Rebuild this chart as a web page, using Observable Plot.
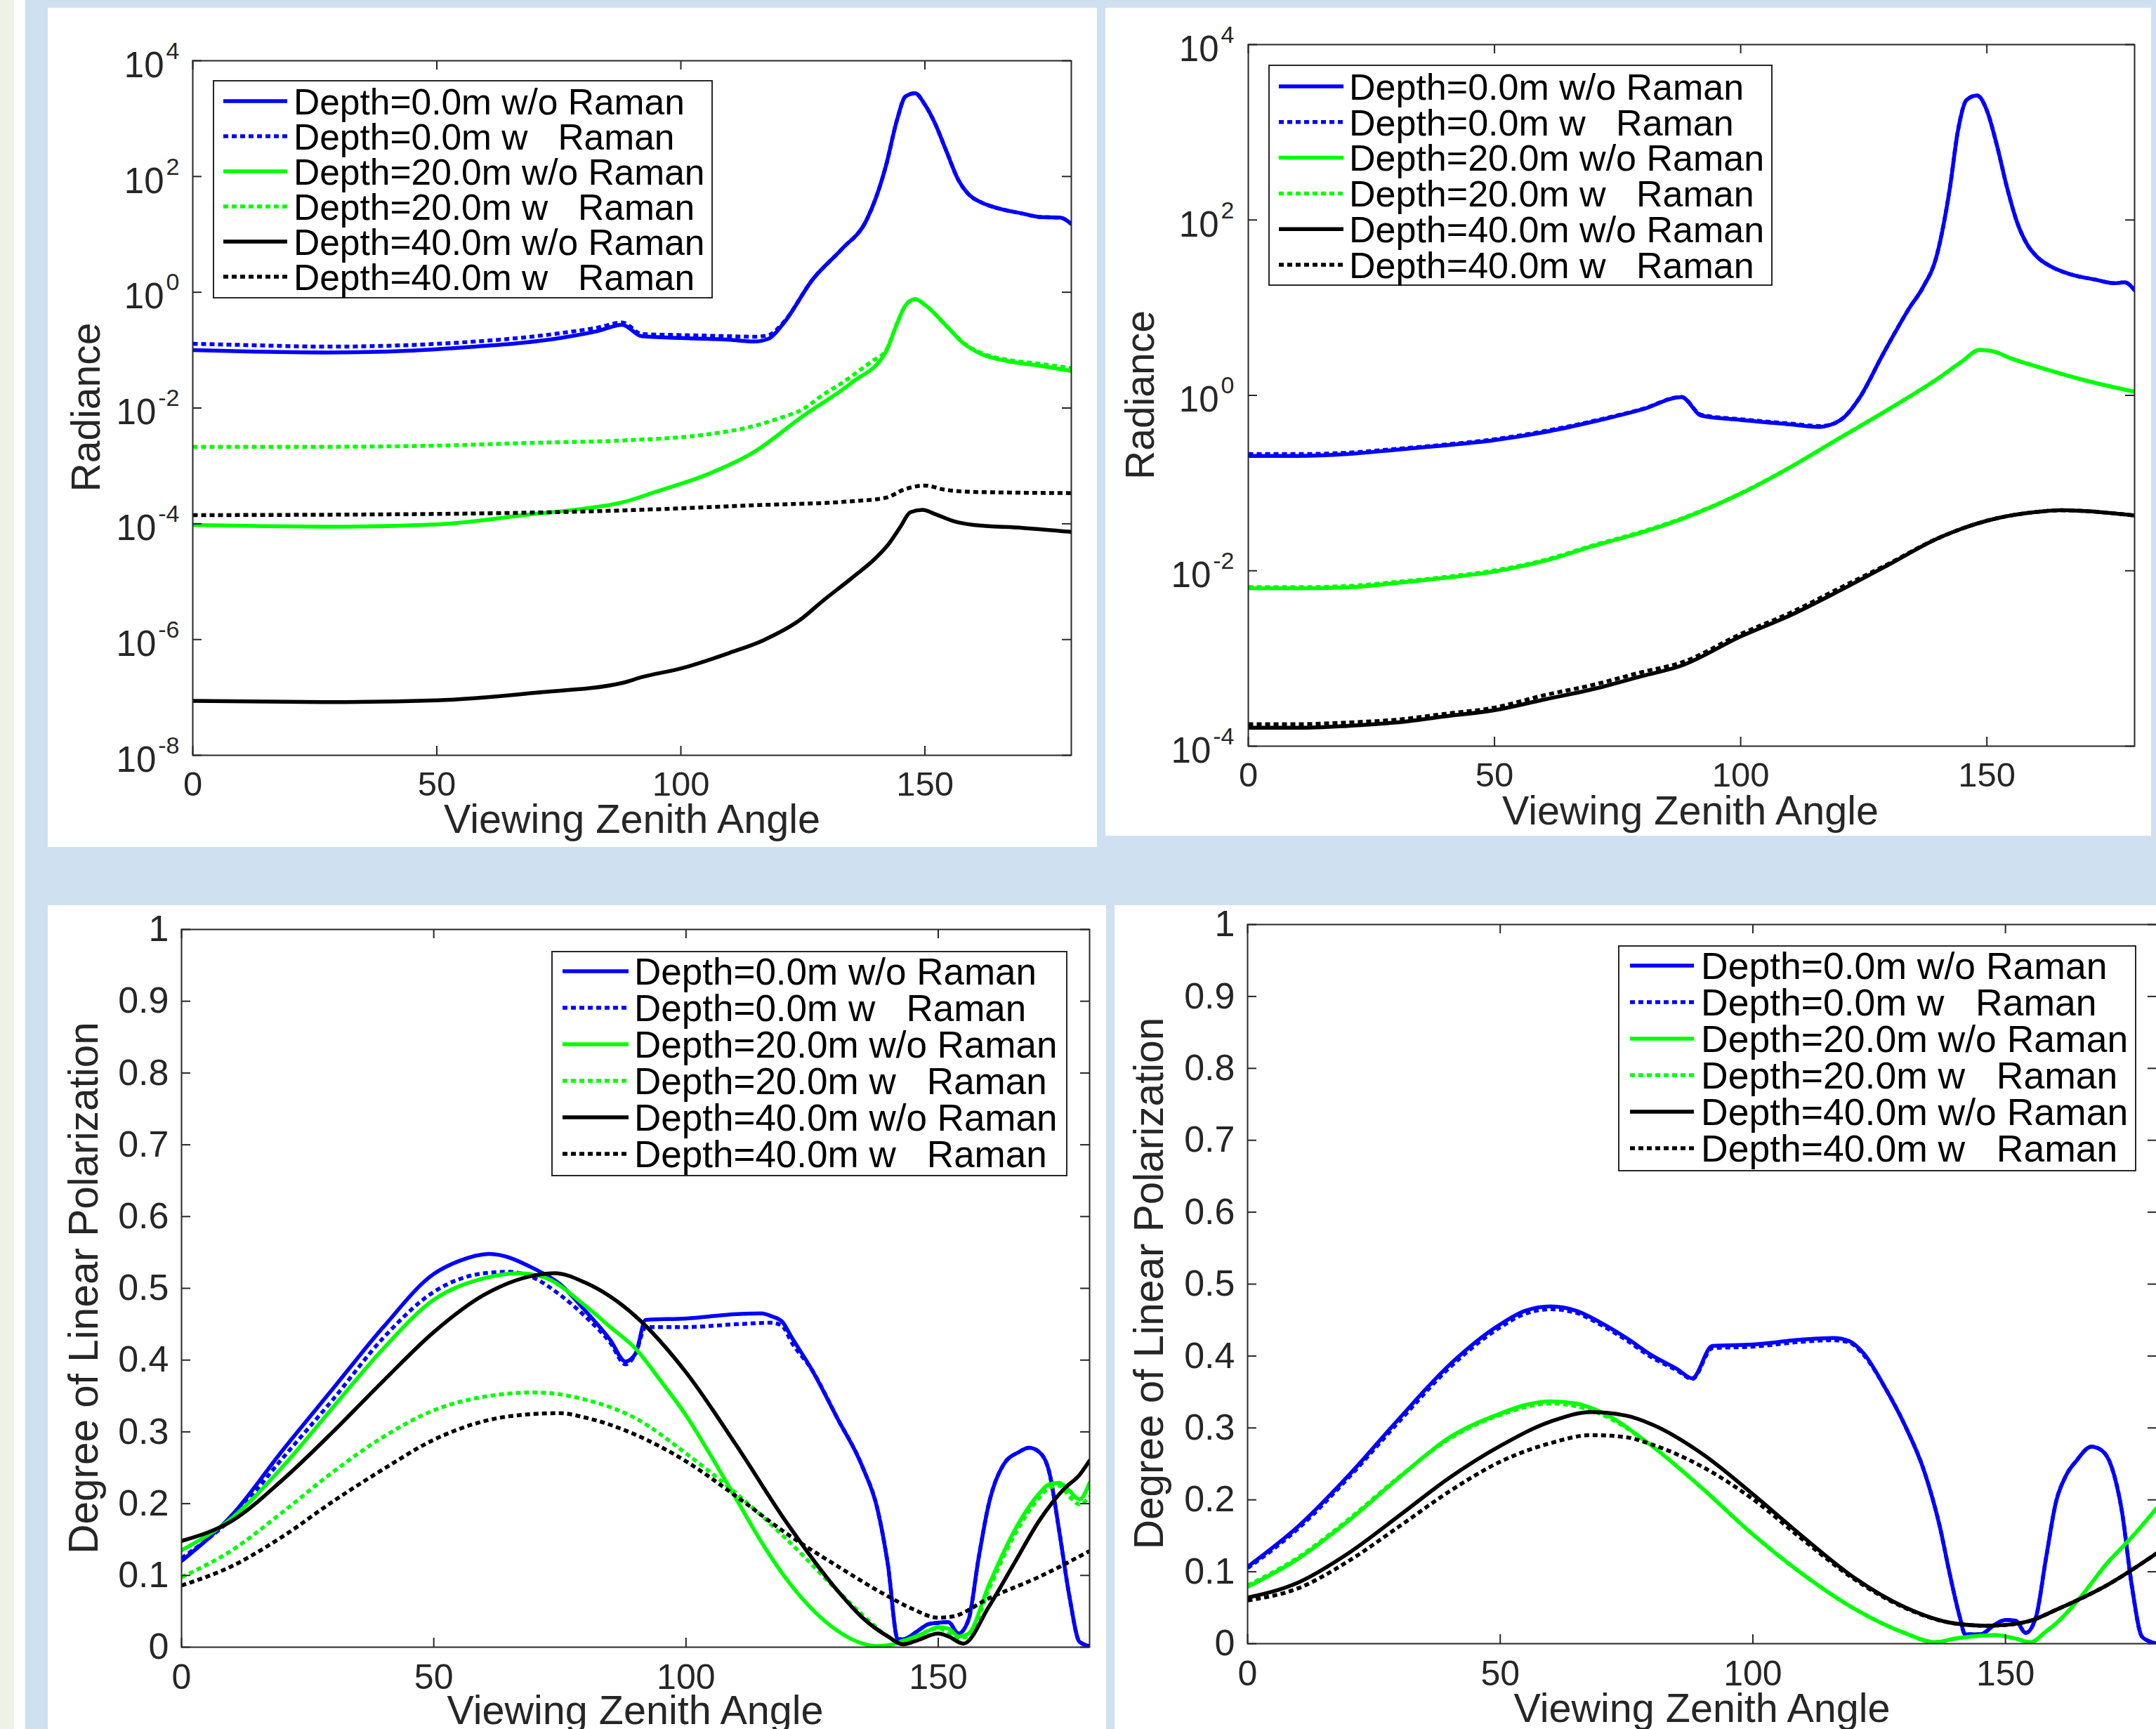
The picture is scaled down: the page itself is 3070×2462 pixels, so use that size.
<!DOCTYPE html>
<html><head><meta charset="utf-8">
<script src="https://cdn.jsdelivr.net/npm/d3@7"></script>
<script src="https://cdn.jsdelivr.net/npm/@observablehq/plot@0.6"></script>
<style>
html,body{margin:0;padding:0;}
body{width:3070px;height:2462px;overflow:hidden;position:relative;background:#cfe0f1;font-family:"Liberation Sans",Arial,Helvetica,sans-serif;}
.strip{position:absolute;top:0;height:2462px;}
.panel{position:absolute;background:#fff;overflow:hidden;}
.panel svg{position:absolute;left:0;top:0;}
</style></head><body>
<div class="strip" style="left:0;width:20px;background:#eef1e5"></div>
<div class="strip" style="left:20px;width:16px;background:#fff"></div>
<div id="p1" class="panel" style="left:68px;top:11px;width:1494px;height:1195px"></div>
<div id="p2" class="panel" style="left:1574px;top:11px;width:1489px;height:1179px"></div>
<div id="p3" class="panel" style="left:68px;top:1289px;width:1507px;height:1200px"></div>
<div id="p4" class="panel" style="left:1587px;top:1289px;width:1500px;height:1200px"></div>
<script>
// ---------- tick values ----------
const angleTicks = [0, 50, 100, 150];
const radianceTicksA = [1e-8, 1e-6, 1e-4, 1e-2, 1, 1e2, 1e4];
const radianceTicksB = [1e-4, 1e-2, 1, 1e2, 1e4];
const dolpTicks = [0, 0.1, 0.2, 0.3, 0.4, 0.5, 0.6, 0.7, 0.8, 0.9, 1];

// ---------- series ----------
const seriesLabels = [
  "Depth=0.0m w/o Raman", "Depth=0.0m w   Raman",
  "Depth=20.0m w/o Raman", "Depth=20.0m w   Raman",
  "Depth=40.0m w/o Raman", "Depth=40.0m w   Raman"
];
const seriesColors = ["#0000ff", "#0000ff", "#00ff00", "#00ff00", "#000000", "#000000"];
const seriesDotted = [false, true, false, true, false, true];

// Panel A: radiance (top left)  [angle, radiance]
const radA_d0_wo = [[0,0.100],[10,0.0955],[28,0.0912],[45,0.098],[58,0.115],[68,0.135],[76,0.166],[83,0.214],[88,0.275],[92,0.174],[100,0.162],[110,0.151],[115,0.141],[118,0.158],[121,0.288],[127,1.66],[133,5.6],[138,17.4],[140,43.6],[142,151],[144.3,955],[146,2400],[148,2750],[150,1740],[152,851],[154.4,275],[156.8,89],[159,49],[161.6,35.5],[165,28.2],[170,22.9],[173.5,20],[177.7,19.5],[180,15.1]];
const radA_d0_w = [[0,0.129],[10,0.123],[28,0.115],[45,0.123],[58,0.141],[68,0.166],[76,0.2],[83,0.245],[88,0.30],[92,0.19],[100,0.182],[110,0.174],[115,0.17],[118,0.182],[121,0.30],[127,1.66],[133,5.6],[138,17.4],[140,43.6],[142,151],[144.3,955],[146,2400],[148,2750],[150,1740],[152,851],[154.4,275],[156.8,89],[159,49],[161.6,35.5],[165,28.2],[170,22.9],[173.5,20],[177.7,19.5],[180,15.1]];
const radA_d20_wo = [[0,9.55e-5],[15,9.12e-5],[28,8.91e-5],[50,9.77e-5],[70,1.48e-4],[80,1.82e-4],[88,2.34e-4],[95,3.6e-4],[105,6.92e-4],[115,1.74e-3],[125,7.24e-3],[135,0.0275],[142,0.0933],[144.3,0.288],[146,0.589],[148,0.759],[150.2,0.589],[154.4,0.263],[158,0.129],[161.6,0.0851],[167,0.0646],[173.5,0.0537],[180,0.0437]];
const radA_d20_w = [[0,2.14e-3],[25,2.14e-3],[50,2.24e-3],[70,2.51e-3],[88,2.75e-3],[105,3.47e-3],[115,4.9e-3],[120,6.6e-3],[125,9.55e-3],[129,0.0166],[134,0.0309],[139,0.0631],[142,0.0977],[144.3,0.288],[146,0.589],[148,0.759],[150.2,0.589],[154.4,0.263],[158,0.132],[161.6,0.089],[167,0.068],[173.5,0.058],[180,0.049]];
const radA_d40_wo = [[0,8.7e-8],[28,8.3e-8],[50,8.9e-8],[70,1.2e-7],[88,1.78e-7],[92,2.24e-7],[100,3.16e-7],[110,5.9e-7],[117,9.8e-7],[124.6,2.24e-6],[129,4.6e-6],[135,1.15e-5],[140,2.6e-5],[142.5,4.4e-5],[145,8.9e-5],[147,1.58e-4],[149.5,1.74e-4],[152,1.48e-4],[156,1.1e-4],[160,9.55e-5],[170,8.5e-5],[180,7.24e-5]];
const radA_d40_w = [[0,1.41e-4],[50,1.48e-4],[88,1.70e-4],[115,2.09e-4],[135,2.45e-4],[142,2.82e-4],[146,3.98e-4],[150,4.57e-4],[154,3.89e-4],[160,3.55e-4],[180,3.39e-4]];

// Panel B: radiance (top right)
const radB_d0_wo = [[0,0.204],[10,0.204],[20,0.214],[30,0.24],[40,0.269],[50,0.309],[60,0.38],[70,0.501],[80,0.692],[88,0.955],[92,0.589],[100,0.525],[110,0.468],[116,0.437],[118,0.457],[121,0.562],[124,0.912],[129,3.02],[134.3,10],[137,17],[139.8,38.9],[142.5,234],[144.1,1023],[145.9,2344],[148,2630],[150,1778],[152,724],[154.1,234],[156.1,95.5],[158.2,52.5],[160.2,38],[163,29.5],[167,24],[172,20.9],[176,19],[178,19.5],[180,15.8]];
const radB_d0_w = [[0,0.214],[10,0.214],[20,0.222],[30,0.245],[40,0.275],[50,0.316],[60,0.39],[70,0.51],[80,0.70],[88,0.96],[92,0.60],[100,0.535],[110,0.478],[116,0.447],[118,0.46],[121,0.565],[124,0.912],[129,3.02],[134.3,10],[137,17],[139.8,38.9],[142.5,234],[144.1,1023],[145.9,2344],[148,2630],[150,1778],[152,724],[154.1,234],[156.1,95.5],[158.2,52.5],[160.2,38],[163,29.5],[167,24],[172,20.9],[176,19],[178,19.5],[180,15.8]];
const radB_d20_wo = [[0,6.3e-3],[10,6.3e-3],[20,6.46e-3],[30,7.24e-3],[40,8.3e-3],[50,9.8e-3],[60,0.0129],[70,0.0191],[80,0.0275],[88,0.0389],[100,0.0759],[110,0.151],[120,0.324],[130,0.692],[140,1.55],[145,2.45],[148.5,3.3],[151,3.2],[155,2.63],[160,2.14],[170,1.48],[180,1.10]];
const radB_d20_w = [[0,6.5e-3],[10,6.5e-3],[20,6.7e-3],[30,7.45e-3],[40,8.5e-3],[50,0.0101],[60,0.0132],[70,0.0195],[80,0.028],[88,0.0395],[100,0.0765],[110,0.151],[120,0.324],[130,0.692],[140,1.55],[145,2.45],[148.5,3.3],[151,3.2],[155,2.63],[160,2.14],[170,1.48],[180,1.10]];
const radB_d40_wo = [[0,1.62e-4],[10,1.62e-4],[20,1.70e-4],[30,1.86e-4],[40,2.19e-4],[50,2.57e-4],[60,3.39e-4],[70,4.47e-4],[80,6.3e-4],[88,8.3e-4],[100,1.78e-3],[110,3.09e-3],[120,5.9e-3],[130,0.0117],[140,0.0234],[150,0.0372],[160,0.0468],[165,0.049],[170,0.0479],[180,0.0427]];
const radB_d40_w = [[0,1.78e-4],[10,1.78e-4],[20,1.86e-4],[30,2.0e-4],[40,2.34e-4],[50,2.75e-4],[60,3.8e-4],[70,5.0e-4],[80,7.0e-4],[88,9.0e-4],[100,1.9e-3],[110,3.3e-3],[120,6.3e-3],[130,0.012],[140,0.0234],[150,0.0372],[160,0.0468],[165,0.049],[170,0.0479],[180,0.0427]];

// Panel C: degree of linear polarization (bottom left)
const dolpC_d0_wo = [[0,0.12],[10,0.184],[20,0.274],[30,0.36],[40,0.446],[50,0.52],[55,0.538],[61,0.548],[70,0.527],[75,0.506],[80,0.469],[85,0.428],[88,0.398],[90,0.409],[92,0.456],[100,0.458],[110,0.464],[115,0.465],[117,0.461],[119,0.454],[121,0.431],[125,0.386],[130,0.319],[135,0.251],[138,0.191],[140,0.116],[142,0.011],[143,0.011],[146,0.023],[148,0.032],[150,0.034],[152,0.035],[154,0.019],[156,0.038],[158,0.124],[160,0.199],[163,0.255],[166,0.272],[168,0.278],[170,0.272],[172,0.244],[174,0.161],[176,0.071],[178,0.0075],[180,0.0015]];
const dolpC_d0_w = [[0,0.124],[10,0.18],[20,0.263],[30,0.345],[40,0.431],[50,0.495],[60,0.521],[65,0.523],[70,0.514],[75,0.491],[80,0.461],[85,0.424],[88,0.394],[90,0.409],[92,0.446],[100,0.446],[110,0.45],[117,0.452],[119,0.448],[121,0.424],[125,0.386],[130,0.319],[135,0.251],[138,0.191],[140,0.116],[142,0.011],[143,0.011],[146,0.023],[148,0.032],[150,0.034],[152,0.035],[154,0.019],[156,0.038],[158,0.124],[160,0.199],[163,0.255],[166,0.272],[168,0.278],[170,0.272],[172,0.244],[174,0.161],[176,0.071],[178,0.0075],[180,0.0015]];
const dolpC_d20_wo = [[0,0.135],[10,0.18],[20,0.251],[30,0.334],[40,0.416],[50,0.484],[60,0.514],[67,0.521],[72,0.515],[80,0.476],[85,0.446],[90,0.416],[95,0.371],[100,0.323],[105,0.266],[110,0.206],[115,0.146],[120,0.094],[125,0.053],[130,0.023],[135,0.005],[138,0.0015],[141,0.004],[144,0.011],[147,0.019],[150,0.028],[152,0.026],[154,0.015],[156,0.019],[160,0.086],[165,0.161],[170,0.214],[172,0.227],[174,0.229],[176,0.218],[178,0.206],[180,0.229]];
const dolpC_d20_w = [[0,0.0975],[10,0.135],[20,0.188],[30,0.244],[40,0.293],[50,0.33],[60,0.349],[70,0.355],[80,0.345],[90,0.319],[100,0.27],[110,0.214],[120,0.15],[130,0.079],[135,0.045],[140,0.015],[142,0.0075],[144,0.011],[150,0.026],[154,0.013],[156,0.015],[160,0.08],[165,0.155],[170,0.208],[172,0.222],[174,0.225],[176,0.21],[178,0.199],[180,0.21]];
const dolpC_d40_wo = [[0,0.148],[10,0.176],[20,0.233],[30,0.30],[40,0.371],[50,0.439],[60,0.491],[70,0.518],[74,0.521],[80,0.508],[90,0.461],[100,0.383],[110,0.281],[120,0.173],[130,0.079],[135,0.041],[140,0.015],[143,0.004],[146,0.01],[150,0.019],[152,0.015],[155,0.005],[160,0.056],[165,0.116],[170,0.176],[175,0.221],[178,0.24],[180,0.26]];
const dolpC_d40_w = [[0,0.086],[10,0.113],[20,0.154],[30,0.203],[40,0.248],[50,0.289],[60,0.315],[70,0.325],[75,0.326],[80,0.32],[90,0.296],[100,0.259],[110,0.21],[120,0.158],[130,0.113],[140,0.071],[145,0.053],[150,0.041],[153,0.043],[160,0.068],[170,0.098],[180,0.134]];

// Panel D: degree of linear polarization (bottom right)
const dolpD_d0_wo = [[0,0.107],[10,0.163],[20,0.234],[30,0.313],[40,0.388],[50,0.444],[55,0.463],[60,0.469],[65,0.463],[70,0.446],[75,0.425],[80,0.401],[85,0.382],[88,0.369],[92,0.414],[100,0.416],[110,0.423],[116,0.425],[119,0.421],[122,0.403],[126,0.358],[130,0.305],[134,0.238],[137,0.163],[139,0.096],[141,0.036],[142,0.013],[145,0.013],[148,0.027],[150,0.033],[152,0.032],[154,0.015],[156,0.036],[158,0.118],[160,0.197],[162,0.234],[164,0.254],[167,0.274],[169,0.269],[171,0.246],[173,0.186],[175,0.081],[177,0.01],[179,0.002],[180,0]];
const dolpD_d0_w = [[0,0.105],[10,0.16],[20,0.231],[30,0.309],[40,0.384],[50,0.44],[55,0.459],[60,0.465],[65,0.46],[70,0.443],[75,0.422],[80,0.398],[85,0.38],[88,0.368],[92,0.411],[100,0.413],[110,0.42],[116,0.422],[119,0.419],[122,0.401],[126,0.358],[130,0.305],[134,0.238],[137,0.163],[139,0.096],[141,0.036],[142,0.013],[145,0.013],[148,0.027],[150,0.033],[152,0.032],[154,0.015],[156,0.036],[158,0.118],[160,0.197],[162,0.234],[164,0.254],[167,0.274],[169,0.269],[171,0.246],[173,0.186],[175,0.081],[177,0.01],[179,0.002],[180,0]];
const dolpD_d20_wo = [[0,0.079],[10,0.118],[20,0.171],[30,0.231],[40,0.287],[50,0.32],[55,0.332],[60,0.337],[65,0.334],[70,0.322],[80,0.275],[90,0.216],[100,0.152],[110,0.096],[120,0.049],[130,0.015],[136,0.002],[140,0.007],[145,0.011],[148,0.012],[152,0.007],[155,0.002],[158,0.017],[160,0.028],[165,0.066],[170,0.111],[175,0.148],[180,0.189]];
const dolpD_d20_w = [[0,0.081],[10,0.12],[20,0.173],[30,0.232],[40,0.285],[50,0.318],[60,0.334],[70,0.319],[80,0.275],[90,0.216],[100,0.152],[110,0.096],[120,0.049],[130,0.015],[136,0.002],[140,0.007],[145,0.011],[148,0.012],[152,0.007],[155,0.002],[158,0.017],[160,0.028],[165,0.066],[170,0.111],[175,0.148],[180,0.189]];
const dolpD_d40_wo = [[0,0.064],[10,0.085],[20,0.126],[30,0.178],[40,0.231],[50,0.275],[60,0.309],[68,0.322],[75,0.317],[80,0.305],[90,0.264],[100,0.208],[110,0.148],[120,0.092],[130,0.051],[140,0.028],[146,0.025],[150,0.026],[155,0.032],[160,0.047],[170,0.081],[180,0.126]];
const dolpD_d40_w = [[0,0.06],[10,0.077],[20,0.115],[30,0.163],[40,0.212],[50,0.253],[60,0.279],[68,0.29],[75,0.287],[80,0.277],[90,0.246],[100,0.201],[110,0.144],[120,0.09],[130,0.05],[140,0.028],[146,0.025],[150,0.026],[155,0.032],[160,0.047],[170,0.081],[180,0.126]];

// ---------- drawing ----------
const INK = "#262626";
const FONT = '"Liberation Sans", Arial, Helvetica, sans-serif';
const NS = "http://www.w3.org/2000/svg";
const LW = 5.5;
const DASH = "7,5";

function superscriptTicks(svg) {
  svg.querySelectorAll('g[aria-label="y-axis tick label"] text').forEach(t => {
    const m = /^10\^(-?\d+)$/.exec(t.textContent);
    if (!m) return;
    t.textContent = "";
    const a = document.createElementNS(NS, "tspan");
    a.setAttribute("dy", "7"); a.textContent = "10";
    const b = document.createElementNS(NS, "tspan");
    b.setAttribute("dy", "-26"); b.setAttribute("dx", "3"); b.setAttribute("font-size", "34");
    b.textContent = m[1];
    t.append(a, b);
  });
}

function drawPanel(cfg) {
  const el = document.getElementById(cfg.id);
  const m = cfg.margin;
  const pw = cfg.width - m.left - m.right, ph = cfg.height - m.top - m.bottom;
  const tl = 13;
  const marks = [];
  cfg.series.forEach((s, i) => {
    marks.push(Plot.line(s, {
      x: d => d[0], y: d => d[1], stroke: seriesColors[i], strokeWidth: LW,
      strokeDasharray: seriesDotted[i] ? DASH : undefined,
      strokeLinecap: seriesDotted[i] ? "butt" : "round",
      curve: "monotone-x", clip: true
    }));
  });
  marks.push(Plot.ruleY(cfg.yTicks, {y: d => d, insetRight: pw - tl, stroke: INK, strokeWidth: 2}));
  marks.push(Plot.ruleY(cfg.yTicks, {y: d => d, insetLeft: pw - tl, stroke: INK, strokeWidth: 2}));
  marks.push(Plot.ruleX(angleTicks, {x: d => d, insetTop: ph - tl, stroke: INK, strokeWidth: 2}));
  marks.push(Plot.ruleX(angleTicks, {x: d => d, insetBottom: ph - tl, stroke: INK, strokeWidth: 2}));
  marks.push(Plot.frame({stroke: INK, strokeWidth: 2}));
  marks.push(Plot.axisX({ticks: angleTicks, tickSize: 0, tickPadding: cfg.xPad, fontSize: cfg.xFont, label: null, tickFormat: d => String(d)}));
  marks.push(Plot.axisY({ticks: cfg.yTicks, tickSize: 0, tickPadding: cfg.yPad, fontSize: cfg.yFont, label: null, tickFormat: cfg.yFormat}));
  const svg = Plot.plot({
    width: cfg.width, height: cfg.height,
    marginTop: m.top, marginRight: m.right, marginBottom: m.bottom, marginLeft: m.left,
    x: {domain: [0, 180]},
    y: cfg.yScale,
    style: {background: "transparent", color: INK, fontFamily: FONT, fontSize: "50px", overflow: "visible"},
    marks
  });
  el.appendChild(svg);
  superscriptTicks(svg);
  const s = d3.select(svg);
  s.append("text").attr("x", cfg.xLabel[0]).attr("y", cfg.xLabel[1]).attr("text-anchor", "middle")
    .attr("font-size", 57.5).attr("fill", INK).attr("font-family", FONT).text("Viewing Zenith Angle");
  s.append("text").attr("transform", `translate(${cfg.yLabel[0]},${cfg.yLabel[1]}) rotate(-90)`)
    .attr("text-anchor", "middle").attr("font-size", cfg.yLabelFont).attr("fill", INK)
    .attr("font-family", FONT).text(cfg.yLabelText);
  // legend
  const L = cfg.legend;
  const lg = d3.select(el).append("svg").attr("width", L.w).attr("height", L.h)
    .style("left", L.x + "px").style("top", L.y + "px");
  lg.append("rect").attr("x", 1).attr("y", 1).attr("width", L.w - 2).attr("height", L.h - 2)
    .attr("fill", "#fff").attr("stroke", INK).attr("stroke-width", 2);
  seriesLabels.forEach((t, i) => {
    const cy = L.first + i * L.step;
    lg.append("line").attr("x1", L.l1).attr("x2", L.l2).attr("y1", cy).attr("y2", cy)
      .attr("stroke", seriesColors[i]).attr("stroke-width", LW)
      .attr("stroke-dasharray", seriesDotted[i] ? DASH : null);
    lg.append("text").attr("x", L.tx).attr("y", cy + 0.36 * L.font).attr("font-size", L.font)
      .attr("font-family", FONT).attr("fill", "#000").style("white-space", "pre").text(t);
  });
}

const logFormat = d => `10^${Math.round(Math.log10(d))}`;
const linFormat = d => d3.format("~g")(d);

drawPanel({
  id: "p1", width: 1494, height: 1195, margin: {top: 75, right: 37, bottom: 131, left: 206},
  series: [radA_d0_wo, radA_d0_w, radA_d20_wo, radA_d20_w, radA_d40_wo, radA_d40_w],
  yScale: {type: "log", domain: [1e-8, 1e4]}, yTicks: radianceTicksA, yFormat: logFormat,
  xPad: 23, xFont: 49, yPad: 19, yFont: 51,
  xLabel: [832, 1175], yLabel: [74, 569], yLabelText: "Radiance", yLabelFont: 57,
  legend: {x: 235, y: 103, w: 712, h: 311, first: 30, step: 50, l1: 15, l2: 106, tx: 115, font: 51.5}
});
drawPanel({
  id: "p2", width: 1489, height: 1179, margin: {top: 52, right: 24, bottom: 128, left: 203},
  series: [radB_d0_wo, radB_d0_w, radB_d20_wo, radB_d20_w, radB_d40_wo, radB_d40_w],
  yScale: {type: "log", domain: [1e-4, 1e4]}, yTicks: radianceTicksB, yFormat: logFormat,
  xPad: 23, xFont: 49, yPad: 20, yFont: 51,
  xLabel: [833, 1163], yLabel: [69, 551.5], yLabelText: "Radiance", yLabelFont: 57,
  legend: {x: 232, y: 81, w: 718, h: 315, first: 31, step: 50.8, l1: 15, l2: 107, tx: 115, font: 52}
});
drawPanel({
  id: "p3", width: 1507, height: 1200, margin: {top: 34, right: 24, bottom: 144, left: 190},
  series: [dolpC_d0_wo, dolpC_d0_w, dolpC_d20_wo, dolpC_d20_w, dolpC_d40_wo, dolpC_d40_w],
  yScale: {domain: [0, 1]}, yTicks: dolpTicks, yFormat: linFormat,
  xPad: 23.5, xFont: 50, yPad: 18, yFont: 52,
  xLabel: [836.5, 1166], yLabel: [71, 545], yLabelText: "Degree of Linear Polarization", yLabelFont: 58.5,
  legend: {x: 717, y: 65, w: 735, h: 321, first: 29, step: 52, l1: 16, l2: 110, tx: 118, font: 53}
});
drawPanel({
  id: "p4", width: 1500, height: 1200, margin: {top: 27, right: 16, bottom: 149, left: 189},
  series: [dolpD_d0_wo, dolpD_d0_w, dolpD_d20_wo, dolpD_d20_w, dolpD_d40_wo, dolpD_d40_w],
  yScale: {domain: [0, 1]}, yTicks: dolpTicks, yFormat: linFormat,
  xPad: 23.5, xFont: 50, yPad: 18, yFont: 52,
  xLabel: [836.5, 1163], yLabel: [69, 538.5], yLabelText: "Degree of Linear Polarization", yLabelFont: 58.5,
  legend: {x: 717, y: 57, w: 738, h: 322, first: 29, step: 52, l1: 17, l2: 108, tx: 118, font: 53.5}
});
</script>
</body></html>
